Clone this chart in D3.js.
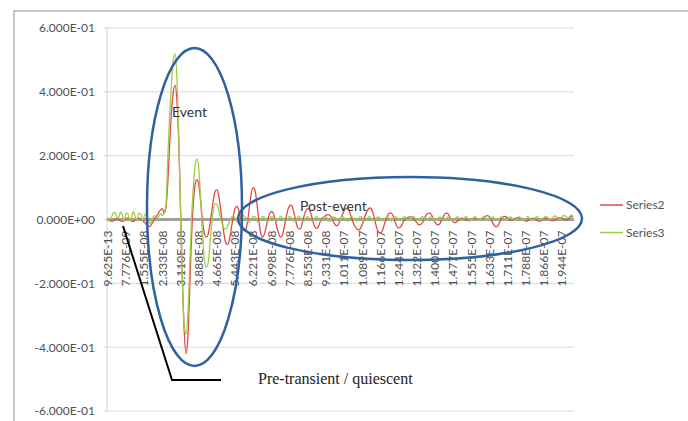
<!DOCTYPE html>
<html><head><meta charset="utf-8">
<script src="https://cdn.jsdelivr.net/npm/d3@7"></script>
<style>body{margin:0;background:#fff}svg{display:block}</style>
</head><body><svg id="c" width="688" height="421"></svg>
<script>
const tickLabels = ["9.625E-13","7.776E-09","1.555E-08","2.333E-08","3.110E-08","3.888E-08","4.665E-08","5.443E-08","6.221E-08","6.998E-08","7.776E-08","8.553E-08","9.331E-08","1.011E-07","1.089E-07","1.166E-07","1.244E-07","1.322E-07","1.400E-07","1.477E-07","1.555E-07","1.633E-07","1.711E-07","1.788E-07","1.866E-07","1.944E-07"];
const tickEvery = 10;
const yTicks = [-0.6,-0.4,-0.2,0,0.2,0.4,0.6];
const yTickLabels = ["-6.000E-01","-4.000E-01","-2.000E-01","0.000E+00","2.000E-01","4.000E-01","6.000E-01"];
const seriesNames = ["Series2","Series3"];
const series2 = [
0,-0.003,-0.005,-0.004,0.0,0.003,0.0,-0.004,-0.006,-0.003,
0.002,0.004,0.0,-0.005,-0.006,-0.002,0.003,0.004,0.0,-0.004,
-0.008,-0.015,-0.02,-0.022,-0.015,-0.005,0.005,0.012,0.022,0.03,
0.034,0.02,0.04,0.12,0.24,0.34,0.40,0.42,0.37,0.24,
0.03,-0.19,-0.35,-0.42,-0.37,-0.22,-0.06,0.05,0.11,0.125,
0.11,0.06,0.0,-0.04,-0.055,-0.05,-0.02,0.02,0.06,0.088,
0.093,0.075,0.035,-0.01,-0.05,-0.075,-0.078,-0.06,-0.025,0.01,
0.035,0.042,0.03,0.005,-0.02,-0.035,-0.03,0.0,0.045,0.085,
0.1,0.09,0.05,0.0,-0.04,-0.055,-0.048,-0.025,0.0,0.018,
0.025,0.02,0.0,-0.025,-0.045,-0.055,-0.05,-0.025,0.005,0.03,
0.043,0.045,0.03,0.005,-0.018,-0.03,-0.028,-0.01,0.012,0.028,
0.035,0.03,0.012,-0.01,-0.025,-0.028,-0.02,-0.005,0.005,0.008,
0.013,0.015,0.014,0.006,-0.006,-0.016,-0.02,-0.014,0.0,0.015,
0.028,0.034,0.035,0.024,0.006,-0.01,-0.022,-0.03,-0.033,-0.028,
-0.015,0.002,0.018,0.03,0.036,0.033,0.018,-0.005,-0.028,-0.04,
-0.043,-0.035,-0.018,0.0,0.013,0.02,0.02,0.01,-0.008,-0.022,
-0.027,-0.024,-0.014,-0.003,0.004,0.007,0.008,0.008,0.005,-0.002,
-0.01,-0.016,-0.016,-0.01,0.0,0.012,0.019,0.02,0.015,0.004,
-0.008,-0.016,-0.017,-0.01,0.002,0.013,0.02,0.019,0.01,0.0,
-0.008,-0.01,-0.006,-0.002,0.002,0.004,0.003,0.0,-0.003,-0.004,
-0.002,0.002,0.004,0.003,0.0,-0.002,0.002,0.007,0.011,0.012,
0.008,-0.002,-0.013,-0.021,-0.023,-0.016,-0.004,0.006,0.01,0.009,
0.004,0.0,-0.003,-0.002,0.002,0.005,0.006,0.005,0.001,-0.003,
-0.005,-0.004,0.0,0.003,0.004,0.002,-0.002,-0.005,-0.005,-0.002,
0.002,0.004,0.003,0.0,-0.003,-0.004,-0.002,0.002,0.005,0.006,
0.004,0.0,-0.002,0.0,0.005,0.01,0.008
];
const series3 = [
-0.002,0.0,0.008,0.02,0.022,0.004,0.008,0.024,0.012,-0.006,
0.02,0.018,-0.004,0.008,0.025,0.01,-0.005,0.02,0.018,-0.003,
0.01,0.018,0.0,-0.012,-0.006,0.008,0.012,0.004,0.01,0.018,
0.012,0.02,0.05,0.2,0.33,0.43,0.5,0.52,0.44,0.26,
0.02,-0.2,-0.33,-0.36,-0.3,-0.15,0.0,0.1,0.17,0.19,
0.16,0.07,-0.04,-0.12,-0.15,-0.14,-0.09,-0.02,0.03,0.05,
0.048,0.03,0.005,-0.015,-0.028,-0.03,-0.02,-0.005,0.008,0.012,
0.006,-0.004,-0.01,-0.004,0.008,0.012,0.004,-0.006,-0.008,0.002,
0.01,0.008,-0.004,-0.008,0.0,0.009,0.008,-0.002,-0.007,0.0,
0.009,0.007,-0.003,-0.006,0.002,0.01,0.006,-0.004,-0.006,0.003,
0.01,0.005,-0.004,-0.005,0.004,0.01,0.004,-0.005,-0.004,0.005,
0.009,0.003,-0.005,-0.003,0.006,0.009,0.002,-0.005,-0.002,0.007,
0.008,0.0,-0.006,-0.001,0.008,0.007,-0.002,-0.005,0.002,0.009,
0.006,-0.003,-0.005,0.003,0.009,0.005,-0.003,-0.004,0.004,0.009,
0.004,-0.004,-0.003,0.005,0.009,0.003,-0.004,-0.002,0.006,0.008,
0.002,-0.005,-0.001,0.007,0.008,0.0,-0.005,0.001,0.008,0.007,
-0.001,-0.004,0.003,0.009,0.006,-0.002,-0.004,0.004,0.009,0.005,
-0.003,-0.003,0.005,0.009,0.004,-0.003,-0.002,0.006,0.008,0.002,
-0.004,0.0,0.007,0.008,0.001,-0.004,0.001,0.008,0.007,0.0,
-0.004,0.002,0.008,0.006,-0.001,-0.003,0.003,0.009,0.005,-0.002,
-0.003,0.004,0.009,0.004,-0.002,-0.002,0.005,0.009,0.003,-0.003,
-0.001,0.006,0.008,0.002,-0.003,0.0,0.007,0.008,0.001,-0.003,
0.001,0.008,0.007,0.0,-0.003,0.002,0.008,0.006,-0.001,-0.002,
0.003,0.009,0.005,-0.002,-0.002,0.004,0.009,0.005,-0.001,0.0,
0.006,0.01,0.006,0.0,0.001,0.007,0.011,0.008,0.002,0.003,
0.009,0.013,0.01,0.005,0.008,0.014,0.012
];

const svg = d3.select("#c");
const W = 688, H = 421;
const plot = {l:107, r:574, t:28, b:411};
const font = "Lato, 'Open Sans', sans-serif";
const labelColor = "#505050";

// outer frame (left and top edges visible)
svg.append("rect").attr("x",14).attr("y",11).attr("width",W).attr("height",H)
  .attr("fill","none").attr("stroke","#b5b5b5").attr("stroke-width",1.5);

const x = d3.scaleBand().domain(d3.range(series2.length)).range([plot.l, plot.r]);
const xc = i => x(i) + x.bandwidth()/2;
const y = d3.scaleLinear().domain([-0.6,0.6]).range([plot.b, plot.t]);

// gridlines
svg.append("g").selectAll("line").data(yTicks).join("line")
  .attr("x1",plot.l-3).attr("x2",plot.r).attr("y1",d=>y(d)).attr("y2",d=>y(d))
  .attr("stroke","#d9d9d9").attr("stroke-width",1);
// y axis line
svg.append("line").attr("x1",plot.l).attr("x2",plot.l).attr("y1",plot.t).attr("y2",plot.b)
  .attr("stroke","#d0d0d0").attr("stroke-width",1);

// y axis labels
const yAxis = d3.axisLeft(y).tickValues(yTicks).tickFormat((d,i)=>yTickLabels[i]).tickSize(0).tickPadding(12);
const gy = svg.append("g").attr("transform",`translate(${plot.l},0)`).call(yAxis);
gy.select(".domain").remove();
gy.selectAll("text").attr("font-family",font).attr("font-size",12).attr("fill",labelColor);

// zero axis line (thick gray)
svg.append("line").attr("x1",plot.l).attr("x2",plot.r).attr("y1",y(0)).attr("y2",y(0))
  .attr("stroke","#a0a0a0").attr("stroke-width",3);

// x axis labels
const xAxis = d3.axisBottom(x).tickValues(d3.range(0, series2.length, tickEvery).filter(i=>i/tickEvery < tickLabels.length))
  .tickFormat(i=>tickLabels[i/tickEvery]).tickSize(0);
const gx = svg.append("g").attr("transform",`translate(0,${y(0)})`).call(xAxis);
gx.select(".domain").remove();
gx.selectAll("text").attr("font-family",font).attr("font-size",12).attr("fill",labelColor)
  .attr("transform","rotate(-90)").attr("text-anchor","end").attr("x",-11).attr("y",0).attr("dy","0.35em");

// series lines
const line = d3.line().x((d,i)=>xc(i)).y(d=>y(d)).curve(d3.curveMonotoneX);
const colors = ["#e0494a","#9fcd45"];
[series2, series3].forEach((s,k)=>{
  svg.append("path").datum(s).attr("d",line).attr("fill","none")
    .attr("stroke",colors[k]).attr("stroke-width",1.3).attr("stroke-linejoin","round");
});

// legend
seriesNames.forEach((n,k)=>{
  const ly = 205 + k*27.5;
  svg.append("line").attr("x1",600).attr("x2",623).attr("y1",ly).attr("y2",ly)
    .attr("stroke",colors[k]).attr("stroke-width",1.5);
  svg.append("text").attr("x",626).attr("y",ly).attr("dy","0.35em").text(n)
    .attr("font-family",font).attr("font-size",12).attr("fill",labelColor);
});

// annotations
const blue = "#2f609f";
svg.append("ellipse").attr("cx",194.5).attr("cy",207).attr("rx",47.5).attr("ry",159)
  .attr("fill","none").attr("stroke",blue).attr("stroke-width",2.5);
svg.append("ellipse").attr("cx",410).attr("cy",218.5).attr("rx",172).attr("ry",41.5)
  .attr("fill","none").attr("stroke",blue).attr("stroke-width",2.5);
svg.append("text").attr("x",172).attr("y",112).attr("dy","0.35em").text("Event")
  .attr("font-family",font).attr("font-size",14).attr("fill","#333");
svg.append("text").attr("x",300).attr("y",206).attr("dy","0.35em").text("Post-event")
  .attr("font-family",font).attr("font-size",14).attr("fill","#333");
svg.append("polyline").attr("points","123,226 172,380 221,380")
  .attr("fill","none").attr("stroke","#000").attr("stroke-width",2);
svg.append("text").attr("x",258).attr("y",378).attr("dy","0.35em").text("Pre-transient / quiescent")
  .attr("font-family","'Liberation Serif', 'DejaVu Serif', serif").attr("font-size",16).attr("fill","#222");
</script></body></html>
